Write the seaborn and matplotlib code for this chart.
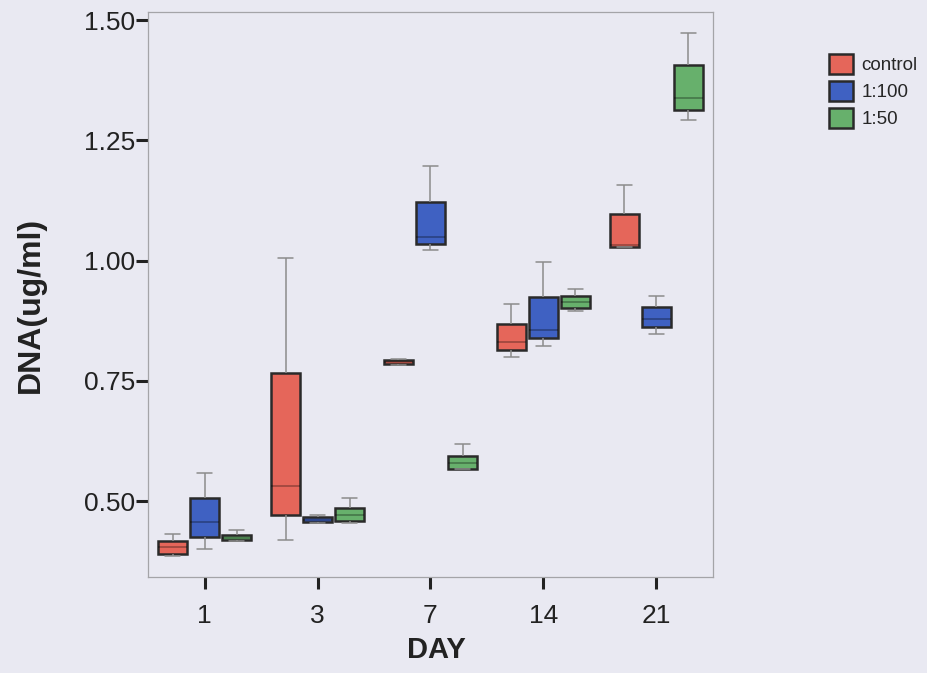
import numpy as np
import pandas as pd
import matplotlib
matplotlib.use("Agg")
import matplotlib.pyplot as plt
import seaborn as sns

# Days on the x axis and treatment groups
days = ["1", "3", "7", "14", "21"]
groups = ["control", "1:100", "1:50"]

# Five-number summaries (min, Q1, median, Q3, max) of DNA (ug/ml) per day
control_vals = [
    [0.385, 0.389, 0.404, 0.417, 0.432],
    [0.418, 0.472, 0.531, 0.767, 1.006],
    [0.783, 0.785, 0.790, 0.794, 0.796],
    [0.800, 0.815, 0.831, 0.868, 0.909],
    [1.028, 1.029, 1.033, 1.096, 1.158],
]
dil100_vals = [
    [0.401, 0.426, 0.457, 0.506, 0.558],
    [0.455, 0.456, 0.461, 0.467, 0.472],
    [1.023, 1.035, 1.049, 1.121, 1.196],
    [0.823, 0.839, 0.856, 0.925, 0.997],
    [0.847, 0.861, 0.878, 0.904, 0.926],
]
dil50_vals = [
    [0.417, 0.419, 0.424, 0.430, 0.440],
    [0.454, 0.458, 0.470, 0.486, 0.507],
    [0.567, 0.567, 0.580, 0.594, 0.619],
    [0.896, 0.902, 0.914, 0.926, 0.941],
    [1.292, 1.314, 1.338, 1.406, 1.474],
]

yticks = [0.50, 0.75, 1.00, 1.25, 1.50]
palette = {"control": "#E5665A", "1:100": "#3F61C2", "1:50": "#67B06C"}
bg = "#E9E9F2"
ink = "#222222"

rows = []
for grp, vals in zip(groups, [control_vals, dil100_vals, dil50_vals]):
    for day, v in zip(days, vals):
        for x in v:
            rows.append({"DAY": day, "group": grp, "DNA": x})
df = pd.DataFrame(rows)

sns.set_theme(style="ticks")
plt.rcParams["font.family"] = ["Liberation Sans", "DejaVu Sans"]

fig = plt.figure(figsize=(9.27, 6.73), dpi=100, facecolor=bg)
ax = fig.add_axes([0.1597, 0.1426, 0.6094, 0.8396])
ax.set_facecolor(bg)

sns.boxplot(
    data=df, x="DAY", y="DNA", hue="group",
    order=days, hue_order=groups, palette=palette, saturation=1,
    width=0.85, gap=0.1, whis=(0, 100), fliersize=0,
    linecolor="#2a2a2a", linewidth=1.8,
    boxprops=dict(edgecolor="#2a2a2a", linewidth=1.8),
    whiskerprops=dict(color="#8c8c8c", linewidth=1.1),
    capprops=dict(color="#8c8c8c", linewidth=1.1),
    medianprops=dict(color="#000000", alpha=0.3, linewidth=1.3),
    ax=ax,
)

ax.set_xlim(-0.5, 4.5)
ax.set_ylim(0.342, 1.517)
ax.set_yticks(yticks)
ax.set_yticklabels([f"{t:.2f}" for t in yticks])

for side in ["left", "right", "top", "bottom"]:
    ax.spines[side].set_visible(True)
    ax.spines[side].set_color("#a4a4a8")
    ax.spines[side].set_linewidth(0.9)

ax.tick_params(axis="both", length=8.5, width=2.2, color=ink,
               labelsize=19, labelcolor=ink)
ax.tick_params(axis="y", pad=1)
ax.tick_params(axis="x", pad=11)

ax.set_xlabel("DAY", fontsize=21, fontweight="bold", color=ink)
ax.set_ylabel("DNA(ug/ml)", fontsize=23, fontweight="bold", color=ink)
ax.xaxis.label.set_va("center")
ax.yaxis.label.set_va("center")
ax.xaxis.set_label_coords((436 - 148) / 565, (577 - 650) / 565)
ax.yaxis.set_label_coords((31 - 148) / 565, (577 - 305) / 565)

handles, labels = ax.get_legend_handles_labels()
ax.legend(
    handles, labels, loc="upper left", bbox_to_anchor=(829 / 927, 1 - 54 / 673),
    bbox_transform=fig.transFigure, frameon=False, fontsize=13.5,
    handlelength=1.3, handleheight=1.25, labelspacing=0.36,
    handletextpad=0.42, borderpad=0, borderaxespad=0,
)
for h in ax.get_legend().legend_handles:
    h.set_edgecolor("#2a2a2a")
    h.set_linewidth(1.8)

fig.savefig("out.png", dpi=100, facecolor=bg)
